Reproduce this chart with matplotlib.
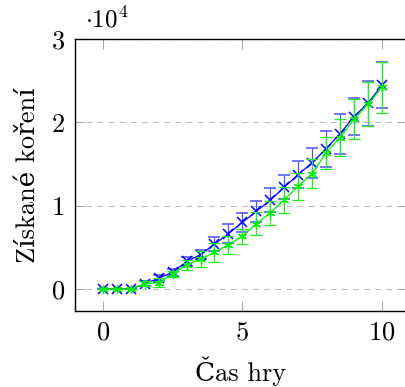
import matplotlib
matplotlib.use("Agg")
import matplotlib.pyplot as plt
import numpy as np

# game time (x) and collected spice for two runs
cas = [0, 0.5, 1, 1.5, 2, 2.5, 3, 3.5, 4, 4.5, 5, 5.5, 6, 6.5, 7, 7.5, 8, 8.5, 9, 9.5, 10]

modra = [0, 0, 0, 600, 1290, 2000, 3300, 4100, 5380, 6630, 7990, 9320, 10640,
         12210, 13730, 15140, 16830, 18630, 20680, 22290, 24460]
modra_err = [0, 0, 0, 300, 360, 420, 560, 560, 800, 1140, 1100, 1280, 1450,
             1460, 1650, 1800, 2170, 2410, 2230, 2710, 2790]

zelena = [0, 0, 0, 600, 760, 1800, 2890, 3570, 4380, 5300, 6310, 7830, 9120,
          10720, 12330, 13820, 16350, 18150, 20360, 22170, 24180]
zelena_err = [0, 0, 0, 300, 500, 400, 640, 940, 1100, 1100, 900, 1400, 1400,
              1570, 1600, 1750, 1900, 2200, 2410, 2650, 3110]

plt.rcParams['font.family'] = ['cmr10', 'DejaVu Serif']
plt.rcParams['mathtext.fontset'] = 'cm'
plt.rcParams['axes.formatter.use_mathtext'] = True

fig = plt.figure(figsize=(4.05, 3.87), dpi=100)
ax = fig.add_axes([75/405, 1 - 311/387, 332/405, 272/387])

ax.errorbar(cas, modra, yerr=modra_err, color='#0000ff', ecolor='#5050ff',
            marker='x', markersize=6.5, markeredgewidth=1.1, linewidth=0.9,
            elinewidth=0.9, capsize=4, capthick=1.2, zorder=3)
ax.errorbar(cas, zelena, yerr=zelena_err, color='#00ee00', ecolor='#22ee22',
            marker=(6, 2, 0), markersize=6.5, markeredgewidth=0.9, linewidth=0.9,
            elinewidth=0.9, capsize=4, capthick=1.2, zorder=4)

ax.set_xlim(-1, 10.9)
ax.set_ylim(-2650, 30000)
ax.set_xticks([0, 5, 10])
ax.set_yticks([0, 10000, 20000, 30000])
ax.set_yticklabels(['0', '1', '2', '3'])
ax.text(0.03, 1.025, r'$\cdot 10^4$', transform=ax.transAxes, fontsize=18,
        ha='left', va='bottom')

ax.yaxis.grid(True, color='#bbbbbb', linestyle=(0, (5, 5)), linewidth=0.8)
ax.tick_params(direction='in', length=7, color='#aaaaaa', labelsize=19,
               top=True, right=True, pad=7)
for s in ax.spines.values():
    s.set_linewidth(1.0)

ax.set_xlabel('Čas hry', fontsize=19, labelpad=9)
ax.set_ylabel('Získané koření', fontsize=19, labelpad=9)

plt.savefig('out.png', dpi=100)
